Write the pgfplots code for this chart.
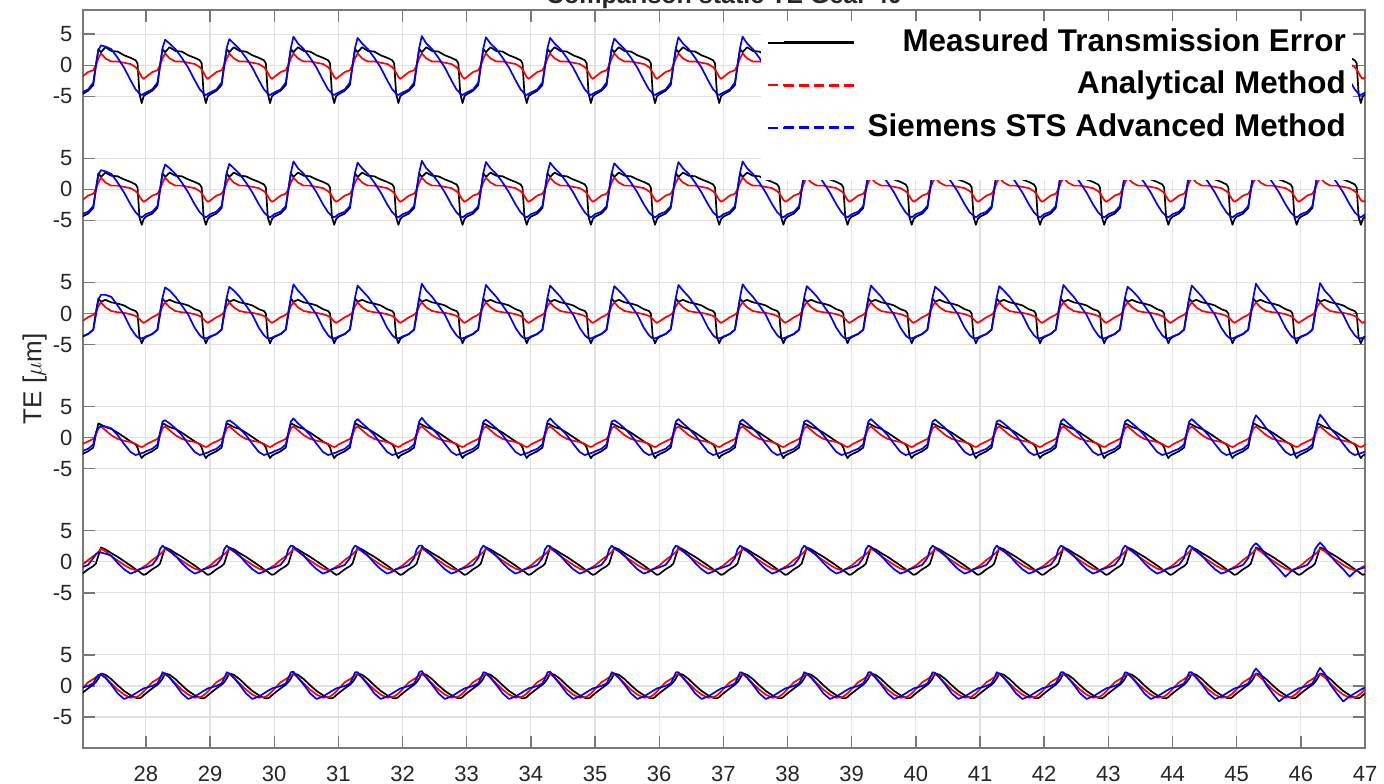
\documentclass[border=0pt]{standalone}
\usepackage{fontspec}
\setmainfont{Liberation Sans}
\usepackage{pgfplots}
\pgfplotsset{compat=1.18}
\usepackage{pgfplotstable}
\definecolor{axgray}{RGB}{120,120,120}
\definecolor{lblgray}{RGB}{38,38,38}
\definecolor{gridgray}{RGB}{225,225,225}

% columns: x, then measured/analytical/siemens for bands 1..6 (top to bottom)
\pgfplotstableread{
x m1 a1 s1 m2 a2 s2 m3 a3 s3 m4 a4 s4 m5 a5 s5 m6 a6 s6
27.00 -4.7 -1.9 -4.4 -4.4 -1.8 -4.0 -3.8 -1.3 -3.7 -2.7 -1.1 -2.2 -2.0 -0.6 -0.9 -1.2 -0.5 -0.3
27.10 -4.1 -1.1 -3.9 -3.9 -1.0 -3.6 -3.3 -0.6 -3.3 -2.2 -0.6 -1.8 -1.2 0.3 -0.5 -0.4 0.6 0.0
27.18 -3.2 -0.8 -2.8 -3.0 -0.7 -2.7 -2.6 -0.2 -2.6 -1.6 -0.2 -1.1 -0.7 0.9 0.6 0.2 1.1 0.4
27.22 0.0 0.0 -0.2 0.0 0.0 -0.2 0.2 0.2 -0.3 0.5 0.4 0.8 -0.3 1.2 1.2 0.6 1.4 1.2
27.26 2.6 1.1 2.4 2.6 1.1 2.4 2.4 1.2 2.3 2.3 1.5 1.6 1.0 1.6 1.5 1.2 1.7 1.8
27.30 2.1 1.9 3.2 2.0 1.9 3.1 1.9 1.8 3.0 2.1 1.8 1.9 2.3 2.1 1.5 2.0 1.9 1.8
27.37 2.9 1.1 3.0 2.7 1.1 2.9 2.2 1.0 3.0 1.7 1.2 1.8 2.0 1.7 1.3 1.8 1.4 1.3
27.46 2.3 0.6 2.6 2.2 0.6 2.5 1.8 0.4 2.7 1.4 0.4 1.5 1.4 0.9 1.0 1.1 0.4 0.2
27.56 2.2 0.6 1.2 2.1 0.6 1.1 1.6 0.2 1.3 0.8 -0.2 0.4 0.8 0.2 -0.2 0.1 -0.6 -1.2
27.66 1.6 0.4 -0.4 1.6 0.4 -0.5 1.3 0.1 -0.2 0.1 -0.5 -1.0 0.1 -0.5 -1.2 -0.8 -1.4 -2.1
27.76 1.2 0.2 -2.4 1.2 0.2 -2.4 0.7 -0.1 -2.3 -0.6 -0.7 -2.3 -0.6 -1.1 -1.9 -1.5 -1.9 -1.7
27.84 0.8 -0.3 -3.9 0.8 -0.3 -3.7 0.4 -0.4 -3.5 -1.1 -1.0 -2.8 -1.2 -1.35 -1.6 -1.9 -1.8 -1.2
27.87 0.3 -0.7 -4.2 0.3 -0.6 -4.0 0.0 -0.6 -3.8 -1.6 -1.2 -2.7 -1.4 -1.3 -1.4 -2.0 -1.7 -1.0
27.90 -4.6 -1.2 -4.6 -4.5 -1.1 -4.3 -3.8 -0.9 -4.0 -2.6 -1.4 -2.6 -1.6 -1.2 -1.2 -2.0 -1.5 -0.8
27.935 -6.1 -1.9 -4.8 -5.7 -1.7 -4.5 -4.8 -1.3 -4.0 -3.3 -1.5 -2.5 -1.9 -1.0 -1.1 -1.8 -1.2 -0.6
27.965 -5.0 -2.2 -4.6 -4.8 -2.0 -4.3 -4.1 -1.5 -3.9 -2.9 -1.4 -2.4 -2.1 -0.8 -1.0 -1.5 -0.9 -0.4
28.00 -4.7 -1.9 -4.4 -4.4 -1.8 -4.0 -3.8 -1.3 -3.7 -2.7 -1.1 -2.2 -2.0 -0.6 -0.9 -1.2 -0.5 -0.3
28.10 -4.1 -1.1 -3.9 -3.9 -1.0 -3.6 -3.3 -0.6 -3.3 -2.2 -0.6 -1.8 -1.2 0.3 -0.5 -0.4 0.6 0.0
28.18 -3.2 -0.8 -2.8 -3.0 -0.7 -2.7 -2.6 -0.2 -2.6 -1.6 -0.2 -1.1 -0.7 0.9 0.6 0.2 1.1 0.4
28.22 0.0 0.0 -0.2 0.0 0.0 -0.2 0.2 0.2 -0.3 0.5 0.4 0.8 -0.3 1.2 2.0 0.6 1.4 1.2
28.26 2.6 1.1 2.8 2.6 1.1 2.7 2.4 1.2 2.6 2.3 1.5 2.6 1.0 1.6 2.6 1.2 1.7 2.2
28.30 2.1 1.9 4.1 2.0 1.9 4.0 1.9 1.8 4.2 2.1 1.8 2.8 2.3 2.1 2.2 2.0 1.9 2.0
28.37 2.9 1.1 3.5 2.7 1.1 3.4 2.2 1.0 3.7 1.7 1.2 2.3 2.0 1.7 1.7 1.8 1.4 1.3
28.46 2.3 0.6 2.6 2.2 0.6 2.5 1.8 0.4 2.7 1.4 0.4 1.5 1.4 0.9 1.0 1.1 0.4 0.2
28.56 2.2 0.6 1.2 2.1 0.6 1.1 1.6 0.2 1.3 0.8 -0.2 0.4 0.8 0.2 -0.2 0.1 -0.6 -1.2
28.66 1.6 0.4 -0.4 1.6 0.4 -0.5 1.3 0.1 -0.2 0.1 -0.5 -1.0 0.1 -0.5 -1.2 -0.8 -1.4 -2.1
28.76 1.2 0.2 -2.4 1.2 0.2 -2.4 0.7 -0.1 -2.3 -0.6 -0.7 -2.3 -0.6 -1.1 -1.9 -1.5 -1.9 -1.7
28.84 0.8 -0.3 -3.9 0.8 -0.3 -3.7 0.4 -0.4 -3.5 -1.1 -1.0 -2.8 -1.2 -1.35 -1.6 -1.9 -1.8 -1.2
28.87 0.3 -0.7 -4.2 0.3 -0.6 -4.0 0.0 -0.6 -3.8 -1.6 -1.2 -2.7 -1.4 -1.3 -1.4 -2.0 -1.7 -1.0
28.90 -4.6 -1.2 -4.6 -4.5 -1.1 -4.3 -3.8 -0.9 -4.0 -2.6 -1.4 -2.6 -1.6 -1.2 -1.2 -2.0 -1.5 -0.8
28.935 -6.1 -1.9 -4.8 -5.7 -1.7 -4.5 -4.8 -1.3 -4.0 -3.3 -1.5 -2.5 -1.9 -1.0 -1.1 -1.8 -1.2 -0.6
28.965 -5.0 -2.2 -4.6 -4.8 -2.0 -4.3 -4.1 -1.5 -3.9 -2.9 -1.4 -2.4 -2.1 -0.8 -1.0 -1.5 -0.9 -0.4
29.00 -4.7 -1.9 -4.4 -4.4 -1.8 -4.0 -3.8 -1.3 -3.7 -2.7 -1.1 -2.2 -2.0 -0.6 -0.9 -1.2 -0.5 -0.3
29.10 -4.1 -1.1 -3.9 -3.9 -1.0 -3.6 -3.3 -0.6 -3.3 -2.2 -0.6 -1.8 -1.2 0.3 -0.5 -0.4 0.6 0.0
29.18 -3.2 -0.8 -2.8 -3.0 -0.7 -2.7 -2.6 -0.2 -2.6 -1.6 -0.2 -1.1 -0.7 0.9 0.6 0.2 1.1 0.4
29.22 0.0 0.0 -0.2 0.0 0.0 -0.2 0.2 0.2 -0.3 0.5 0.4 0.8 -0.3 1.2 2.0 0.6 1.4 1.2
29.26 2.6 1.1 2.8 2.6 1.1 2.7 2.4 1.2 2.6 2.3 1.5 2.6 1.0 1.6 2.6 1.2 1.7 2.2
29.30 2.1 1.9 4.2 2.0 1.9 4.1 1.9 1.8 4.3 2.1 1.8 2.8 2.3 2.1 2.2 2.0 1.9 2.0
29.37 2.9 1.1 3.5 2.7 1.1 3.4 2.2 1.0 3.7 1.7 1.2 2.3 2.0 1.7 1.7 1.8 1.4 1.3
29.46 2.3 0.6 2.6 2.2 0.6 2.5 1.8 0.4 2.7 1.4 0.4 1.5 1.4 0.9 1.0 1.1 0.4 0.2
29.56 2.2 0.6 1.2 2.1 0.6 1.1 1.6 0.2 1.3 0.8 -0.2 0.4 0.8 0.2 -0.2 0.1 -0.6 -1.2
29.66 1.6 0.4 -0.4 1.6 0.4 -0.5 1.3 0.1 -0.2 0.1 -0.5 -1.0 0.1 -0.5 -1.2 -0.8 -1.4 -2.1
29.76 1.2 0.2 -2.4 1.2 0.2 -2.4 0.7 -0.1 -2.3 -0.6 -0.7 -2.3 -0.6 -1.1 -1.9 -1.5 -1.9 -1.7
29.84 0.8 -0.3 -3.9 0.8 -0.3 -3.7 0.4 -0.4 -3.5 -1.1 -1.0 -2.8 -1.2 -1.35 -1.6 -1.9 -1.8 -1.2
29.87 0.3 -0.7 -4.2 0.3 -0.6 -4.0 0.0 -0.6 -3.8 -1.6 -1.2 -2.7 -1.4 -1.3 -1.4 -2.0 -1.7 -1.0
29.90 -4.6 -1.2 -4.6 -4.5 -1.1 -4.3 -3.8 -0.9 -4.0 -2.6 -1.4 -2.6 -1.6 -1.2 -1.2 -2.0 -1.5 -0.8
29.935 -6.1 -1.9 -4.8 -5.7 -1.7 -4.5 -4.8 -1.3 -4.0 -3.3 -1.5 -2.5 -1.9 -1.0 -1.1 -1.8 -1.2 -0.6
29.965 -5.0 -2.2 -4.6 -4.8 -2.0 -4.3 -4.1 -1.5 -3.9 -2.9 -1.4 -2.4 -2.1 -0.8 -1.0 -1.5 -0.9 -0.4
30.00 -4.7 -1.9 -4.4 -4.4 -1.8 -4.0 -3.8 -1.3 -3.7 -2.7 -1.1 -2.2 -2.0 -0.6 -0.9 -1.2 -0.5 -0.3
30.10 -4.1 -1.1 -3.9 -3.9 -1.0 -3.6 -3.3 -0.6 -3.3 -2.2 -0.6 -1.8 -1.2 0.3 -0.5 -0.4 0.6 0.0
30.18 -3.2 -0.8 -2.8 -3.0 -0.7 -2.7 -2.6 -0.2 -2.6 -1.6 -0.2 -1.1 -0.7 0.9 0.6 0.2 1.1 0.4
30.22 0.0 0.0 -0.2 0.0 0.0 -0.2 0.2 0.2 -0.3 0.5 0.4 0.8 -0.3 1.2 2.0 0.6 1.4 1.2
30.26 2.6 1.1 2.8 2.6 1.1 2.7 2.4 1.2 2.6 2.3 1.5 2.6 1.0 1.6 2.6 1.2 1.7 2.2
30.30 2.1 1.9 4.6 2.0 1.9 4.5 1.9 1.8 4.7 2.1 1.8 3.1 2.3 2.1 2.5 2.0 1.9 2.3
30.37 2.9 1.1 3.5 2.7 1.1 3.4 2.2 1.0 3.7 1.7 1.2 2.3 2.0 1.7 1.7 1.8 1.4 1.3
30.46 2.3 0.6 2.6 2.2 0.6 2.5 1.8 0.4 2.7 1.4 0.4 1.5 1.4 0.9 1.0 1.1 0.4 0.2
30.56 2.2 0.6 1.2 2.1 0.6 1.1 1.6 0.2 1.3 0.8 -0.2 0.4 0.8 0.2 -0.2 0.1 -0.6 -1.2
30.66 1.6 0.4 -0.4 1.6 0.4 -0.5 1.3 0.1 -0.2 0.1 -0.5 -1.0 0.1 -0.5 -1.2 -0.8 -1.4 -2.1
30.76 1.2 0.2 -2.4 1.2 0.2 -2.4 0.7 -0.1 -2.3 -0.6 -0.7 -2.3 -0.6 -1.1 -1.9 -1.5 -1.9 -1.7
30.84 0.8 -0.3 -3.9 0.8 -0.3 -3.7 0.4 -0.4 -3.5 -1.1 -1.0 -2.8 -1.2 -1.35 -1.6 -1.9 -1.8 -1.2
30.87 0.3 -0.7 -4.2 0.3 -0.6 -4.0 0.0 -0.6 -3.8 -1.6 -1.2 -2.7 -1.4 -1.3 -1.4 -2.0 -1.7 -1.0
30.90 -4.6 -1.2 -4.6 -4.5 -1.1 -4.3 -3.8 -0.9 -4.0 -2.6 -1.4 -2.6 -1.6 -1.2 -1.2 -2.0 -1.5 -0.8
30.935 -6.1 -1.9 -4.8 -5.7 -1.7 -4.5 -4.8 -1.3 -4.0 -3.3 -1.5 -2.5 -1.9 -1.0 -1.1 -1.8 -1.2 -0.6
30.965 -5.0 -2.2 -4.6 -4.8 -2.0 -4.3 -4.1 -1.5 -3.9 -2.9 -1.4 -2.4 -2.1 -0.8 -1.0 -1.5 -0.9 -0.4
31.00 -4.7 -1.9 -4.4 -4.4 -1.8 -4.0 -3.8 -1.3 -3.7 -2.7 -1.1 -2.2 -2.0 -0.6 -0.9 -1.2 -0.5 -0.3
31.10 -4.1 -1.1 -3.9 -3.9 -1.0 -3.6 -3.3 -0.6 -3.3 -2.2 -0.6 -1.8 -1.2 0.3 -0.5 -0.4 0.6 0.0
31.18 -3.2 -0.8 -2.8 -3.0 -0.7 -2.7 -2.6 -0.2 -2.6 -1.6 -0.2 -1.1 -0.7 0.9 0.6 0.2 1.1 0.4
31.22 0.0 0.0 -0.2 0.0 0.0 -0.2 0.2 0.2 -0.3 0.5 0.4 0.8 -0.3 1.2 2.0 0.6 1.4 1.2
31.26 2.6 1.1 2.8 2.6 1.1 2.7 2.4 1.2 2.6 2.3 1.5 2.6 1.0 1.6 2.6 1.2 1.7 2.2
31.30 2.1 1.9 4.4 2.0 1.9 4.3 1.9 1.8 4.5 2.1 1.8 3.0 2.3 2.1 2.4 2.0 1.9 2.2
31.37 2.9 1.1 3.5 2.7 1.1 3.4 2.2 1.0 3.7 1.7 1.2 2.3 2.0 1.7 1.7 1.8 1.4 1.3
31.46 2.3 0.6 2.6 2.2 0.6 2.5 1.8 0.4 2.7 1.4 0.4 1.5 1.4 0.9 1.0 1.1 0.4 0.2
31.56 2.2 0.6 1.2 2.1 0.6 1.1 1.6 0.2 1.3 0.8 -0.2 0.4 0.8 0.2 -0.2 0.1 -0.6 -1.2
31.66 1.6 0.4 -0.4 1.6 0.4 -0.5 1.3 0.1 -0.2 0.1 -0.5 -1.0 0.1 -0.5 -1.2 -0.8 -1.4 -2.1
31.76 1.2 0.2 -2.4 1.2 0.2 -2.4 0.7 -0.1 -2.3 -0.6 -0.7 -2.3 -0.6 -1.1 -1.9 -1.5 -1.9 -1.7
31.84 0.8 -0.3 -3.9 0.8 -0.3 -3.7 0.4 -0.4 -3.5 -1.1 -1.0 -2.8 -1.2 -1.35 -1.6 -1.9 -1.8 -1.2
31.87 0.3 -0.7 -4.2 0.3 -0.6 -4.0 0.0 -0.6 -3.8 -1.6 -1.2 -2.7 -1.4 -1.3 -1.4 -2.0 -1.7 -1.0
31.90 -4.6 -1.2 -4.6 -4.5 -1.1 -4.3 -3.8 -0.9 -4.0 -2.6 -1.4 -2.6 -1.6 -1.2 -1.2 -2.0 -1.5 -0.8
31.935 -6.1 -1.9 -4.8 -5.7 -1.7 -4.5 -4.8 -1.3 -4.0 -3.3 -1.5 -2.5 -1.9 -1.0 -1.1 -1.8 -1.2 -0.6
31.965 -5.0 -2.2 -4.6 -4.8 -2.0 -4.3 -4.1 -1.5 -3.9 -2.9 -1.4 -2.4 -2.1 -0.8 -1.0 -1.5 -0.9 -0.4
32.00 -4.7 -1.9 -4.4 -4.4 -1.8 -4.0 -3.8 -1.3 -3.7 -2.7 -1.1 -2.2 -2.0 -0.6 -0.9 -1.2 -0.5 -0.3
32.10 -4.1 -1.1 -3.9 -3.9 -1.0 -3.6 -3.3 -0.6 -3.3 -2.2 -0.6 -1.8 -1.2 0.3 -0.5 -0.4 0.6 0.0
32.18 -3.2 -0.8 -2.8 -3.0 -0.7 -2.7 -2.6 -0.2 -2.6 -1.6 -0.2 -1.1 -0.7 0.9 0.6 0.2 1.1 0.4
32.22 0.0 0.0 -0.2 0.0 0.0 -0.2 0.2 0.2 -0.3 0.5 0.4 0.8 -0.3 1.2 2.0 0.6 1.4 1.2
32.26 2.6 1.1 2.8 2.6 1.1 2.7 2.4 1.2 2.6 2.3 1.5 2.6 1.0 1.6 2.6 1.2 1.7 2.2
32.30 2.1 1.9 4.7 2.0 1.9 4.6 1.9 1.8 4.8 2.1 1.8 3.2 2.3 2.1 2.6 2.0 1.9 2.4
32.37 2.9 1.1 3.5 2.7 1.1 3.4 2.2 1.0 3.7 1.7 1.2 2.3 2.0 1.7 1.7 1.8 1.4 1.3
32.46 2.3 0.6 2.6 2.2 0.6 2.5 1.8 0.4 2.7 1.4 0.4 1.5 1.4 0.9 1.0 1.1 0.4 0.2
32.56 2.2 0.6 1.2 2.1 0.6 1.1 1.6 0.2 1.3 0.8 -0.2 0.4 0.8 0.2 -0.2 0.1 -0.6 -1.2
32.66 1.6 0.4 -0.4 1.6 0.4 -0.5 1.3 0.1 -0.2 0.1 -0.5 -1.0 0.1 -0.5 -1.2 -0.8 -1.4 -2.1
32.76 1.2 0.2 -2.4 1.2 0.2 -2.4 0.7 -0.1 -2.3 -0.6 -0.7 -2.3 -0.6 -1.1 -1.9 -1.5 -1.9 -1.7
32.84 0.8 -0.3 -3.9 0.8 -0.3 -3.7 0.4 -0.4 -3.5 -1.1 -1.0 -2.8 -1.2 -1.35 -1.6 -1.9 -1.8 -1.2
32.87 0.3 -0.7 -4.2 0.3 -0.6 -4.0 0.0 -0.6 -3.8 -1.6 -1.2 -2.7 -1.4 -1.3 -1.4 -2.0 -1.7 -1.0
32.90 -4.6 -1.2 -4.6 -4.5 -1.1 -4.3 -3.8 -0.9 -4.0 -2.6 -1.4 -2.6 -1.6 -1.2 -1.2 -2.0 -1.5 -0.8
32.935 -6.1 -1.9 -4.8 -5.7 -1.7 -4.5 -4.8 -1.3 -4.0 -3.3 -1.5 -2.5 -1.9 -1.0 -1.1 -1.8 -1.2 -0.6
32.965 -5.0 -2.2 -4.6 -4.8 -2.0 -4.3 -4.1 -1.5 -3.9 -2.9 -1.4 -2.4 -2.1 -0.8 -1.0 -1.5 -0.9 -0.4
33.00 -4.7 -1.9 -4.4 -4.4 -1.8 -4.0 -3.8 -1.3 -3.7 -2.7 -1.1 -2.2 -2.0 -0.6 -0.9 -1.2 -0.5 -0.3
33.10 -4.1 -1.1 -3.9 -3.9 -1.0 -3.6 -3.3 -0.6 -3.3 -2.2 -0.6 -1.8 -1.2 0.3 -0.5 -0.4 0.6 0.0
33.18 -3.2 -0.8 -2.8 -3.0 -0.7 -2.7 -2.6 -0.2 -2.6 -1.6 -0.2 -1.1 -0.7 0.9 0.6 0.2 1.1 0.4
33.22 0.0 0.0 -0.2 0.0 0.0 -0.2 0.2 0.2 -0.3 0.5 0.4 0.8 -0.3 1.2 2.0 0.6 1.4 1.2
33.26 2.6 1.1 2.8 2.6 1.1 2.7 2.4 1.2 2.6 2.3 1.5 2.6 1.0 1.6 2.6 1.2 1.7 2.2
33.30 2.1 1.9 4.5 2.0 1.9 4.4 1.9 1.8 4.6 2.1 1.8 2.9 2.3 2.1 2.3 2.0 1.9 2.1
33.37 2.9 1.1 3.5 2.7 1.1 3.4 2.2 1.0 3.7 1.7 1.2 2.3 2.0 1.7 1.7 1.8 1.4 1.3
33.46 2.3 0.6 2.6 2.2 0.6 2.5 1.8 0.4 2.7 1.4 0.4 1.5 1.4 0.9 1.0 1.1 0.4 0.2
33.56 2.2 0.6 1.2 2.1 0.6 1.1 1.6 0.2 1.3 0.8 -0.2 0.4 0.8 0.2 -0.2 0.1 -0.6 -1.2
33.66 1.6 0.4 -0.4 1.6 0.4 -0.5 1.3 0.1 -0.2 0.1 -0.5 -1.0 0.1 -0.5 -1.2 -0.8 -1.4 -2.1
33.76 1.2 0.2 -2.4 1.2 0.2 -2.4 0.7 -0.1 -2.3 -0.6 -0.7 -2.3 -0.6 -1.1 -1.9 -1.5 -1.9 -1.7
33.84 0.8 -0.3 -3.9 0.8 -0.3 -3.7 0.4 -0.4 -3.5 -1.1 -1.0 -2.8 -1.2 -1.35 -1.6 -1.9 -1.8 -1.2
33.87 0.3 -0.7 -4.2 0.3 -0.6 -4.0 0.0 -0.6 -3.8 -1.6 -1.2 -2.7 -1.4 -1.3 -1.4 -2.0 -1.7 -1.0
33.90 -4.6 -1.2 -4.6 -4.5 -1.1 -4.3 -3.8 -0.9 -4.0 -2.6 -1.4 -2.6 -1.6 -1.2 -1.2 -2.0 -1.5 -0.8
33.935 -6.1 -1.9 -4.8 -5.7 -1.7 -4.5 -4.8 -1.3 -4.0 -3.3 -1.5 -2.5 -1.9 -1.0 -1.1 -1.8 -1.2 -0.6
33.965 -5.0 -2.2 -4.6 -4.8 -2.0 -4.3 -4.1 -1.5 -3.9 -2.9 -1.4 -2.4 -2.1 -0.8 -1.0 -1.5 -0.9 -0.4
34.00 -4.7 -1.9 -4.4 -4.4 -1.8 -4.0 -3.8 -1.3 -3.7 -2.7 -1.1 -2.2 -2.0 -0.6 -0.9 -1.2 -0.5 -0.3
34.10 -4.1 -1.1 -3.9 -3.9 -1.0 -3.6 -3.3 -0.6 -3.3 -2.2 -0.6 -1.8 -1.2 0.3 -0.5 -0.4 0.6 0.0
34.18 -3.2 -0.8 -2.8 -3.0 -0.7 -2.7 -2.6 -0.2 -2.6 -1.6 -0.2 -1.1 -0.7 0.9 0.6 0.2 1.1 0.4
34.22 0.0 0.0 -0.2 0.0 0.0 -0.2 0.2 0.2 -0.3 0.5 0.4 0.8 -0.3 1.2 2.0 0.6 1.4 1.2
34.26 2.6 1.1 2.8 2.6 1.1 2.7 2.4 1.2 2.6 2.3 1.5 2.6 1.0 1.6 2.6 1.2 1.7 2.2
34.30 2.1 1.9 4.4 2.0 1.9 4.3 1.9 1.8 4.5 2.1 1.8 3.1 2.3 2.1 2.5 2.0 1.9 2.3
34.37 2.9 1.1 3.5 2.7 1.1 3.4 2.2 1.0 3.7 1.7 1.2 2.3 2.0 1.7 1.7 1.8 1.4 1.3
34.46 2.3 0.6 2.6 2.2 0.6 2.5 1.8 0.4 2.7 1.4 0.4 1.5 1.4 0.9 1.0 1.1 0.4 0.2
34.56 2.2 0.6 1.2 2.1 0.6 1.1 1.6 0.2 1.3 0.8 -0.2 0.4 0.8 0.2 -0.2 0.1 -0.6 -1.2
34.66 1.6 0.4 -0.4 1.6 0.4 -0.5 1.3 0.1 -0.2 0.1 -0.5 -1.0 0.1 -0.5 -1.2 -0.8 -1.4 -2.1
34.76 1.2 0.2 -2.4 1.2 0.2 -2.4 0.7 -0.1 -2.3 -0.6 -0.7 -2.3 -0.6 -1.1 -1.9 -1.5 -1.9 -1.7
34.84 0.8 -0.3 -3.9 0.8 -0.3 -3.7 0.4 -0.4 -3.5 -1.1 -1.0 -2.8 -1.2 -1.35 -1.6 -1.9 -1.8 -1.2
34.87 0.3 -0.7 -4.2 0.3 -0.6 -4.0 0.0 -0.6 -3.8 -1.6 -1.2 -2.7 -1.4 -1.3 -1.4 -2.0 -1.7 -1.0
34.90 -4.6 -1.2 -4.6 -4.5 -1.1 -4.3 -3.8 -0.9 -4.0 -2.6 -1.4 -2.6 -1.6 -1.2 -1.2 -2.0 -1.5 -0.8
34.935 -6.1 -1.9 -4.8 -5.7 -1.7 -4.5 -4.8 -1.3 -4.0 -3.3 -1.5 -2.5 -1.9 -1.0 -1.1 -1.8 -1.2 -0.6
34.965 -5.0 -2.2 -4.6 -4.8 -2.0 -4.3 -4.1 -1.5 -3.9 -2.9 -1.4 -2.4 -2.1 -0.8 -1.0 -1.5 -0.9 -0.4
35.00 -4.7 -1.9 -4.4 -4.4 -1.8 -4.0 -3.8 -1.3 -3.7 -2.7 -1.1 -2.2 -2.0 -0.6 -0.9 -1.2 -0.5 -0.3
35.10 -4.1 -1.1 -3.9 -3.9 -1.0 -3.6 -3.3 -0.6 -3.3 -2.2 -0.6 -1.8 -1.2 0.3 -0.5 -0.4 0.6 0.0
35.18 -3.2 -0.8 -2.8 -3.0 -0.7 -2.7 -2.6 -0.2 -2.6 -1.6 -0.2 -1.1 -0.7 0.9 0.6 0.2 1.1 0.4
35.22 0.0 0.0 -0.2 0.0 0.0 -0.2 0.2 0.2 -0.3 0.5 0.4 0.8 -0.3 1.2 2.0 0.6 1.4 1.2
35.26 2.6 1.1 2.8 2.6 1.1 2.7 2.4 1.2 2.6 2.3 1.5 2.6 1.0 1.6 2.6 1.2 1.7 2.2
35.30 2.1 1.9 4.3 2.0 1.9 4.2 1.9 1.8 4.4 2.1 1.8 2.8 2.3 2.1 2.2 2.0 1.9 2.0
35.37 2.9 1.1 3.5 2.7 1.1 3.4 2.2 1.0 3.7 1.7 1.2 2.3 2.0 1.7 1.7 1.8 1.4 1.3
35.46 2.3 0.6 2.6 2.2 0.6 2.5 1.8 0.4 2.7 1.4 0.4 1.5 1.4 0.9 1.0 1.1 0.4 0.2
35.56 2.2 0.6 1.2 2.1 0.6 1.1 1.6 0.2 1.3 0.8 -0.2 0.4 0.8 0.2 -0.2 0.1 -0.6 -1.2
35.66 1.6 0.4 -0.4 1.6 0.4 -0.5 1.3 0.1 -0.2 0.1 -0.5 -1.0 0.1 -0.5 -1.2 -0.8 -1.4 -2.1
35.76 1.2 0.2 -2.4 1.2 0.2 -2.4 0.7 -0.1 -2.3 -0.6 -0.7 -2.3 -0.6 -1.1 -1.9 -1.5 -1.9 -1.7
35.84 0.8 -0.3 -3.9 0.8 -0.3 -3.7 0.4 -0.4 -3.5 -1.1 -1.0 -2.8 -1.2 -1.35 -1.6 -1.9 -1.8 -1.2
35.87 0.3 -0.7 -4.2 0.3 -0.6 -4.0 0.0 -0.6 -3.8 -1.6 -1.2 -2.7 -1.4 -1.3 -1.4 -2.0 -1.7 -1.0
35.90 -4.6 -1.2 -4.6 -4.5 -1.1 -4.3 -3.8 -0.9 -4.0 -2.6 -1.4 -2.6 -1.6 -1.2 -1.2 -2.0 -1.5 -0.8
35.935 -6.1 -1.9 -4.8 -5.7 -1.7 -4.5 -4.8 -1.3 -4.0 -3.3 -1.5 -2.5 -1.9 -1.0 -1.1 -1.8 -1.2 -0.6
35.965 -5.0 -2.2 -4.6 -4.8 -2.0 -4.3 -4.1 -1.5 -3.9 -2.9 -1.4 -2.4 -2.1 -0.8 -1.0 -1.5 -0.9 -0.4
36.00 -4.7 -1.9 -4.4 -4.4 -1.8 -4.0 -3.8 -1.3 -3.7 -2.7 -1.1 -2.2 -2.0 -0.6 -0.9 -1.2 -0.5 -0.3
36.10 -4.1 -1.1 -3.9 -3.9 -1.0 -3.6 -3.3 -0.6 -3.3 -2.2 -0.6 -1.8 -1.2 0.3 -0.5 -0.4 0.6 0.0
36.18 -3.2 -0.8 -2.8 -3.0 -0.7 -2.7 -2.6 -0.2 -2.6 -1.6 -0.2 -1.1 -0.7 0.9 0.6 0.2 1.1 0.4
36.22 0.0 0.0 -0.2 0.0 0.0 -0.2 0.2 0.2 -0.3 0.5 0.4 0.8 -0.3 1.2 2.0 0.6 1.4 1.2
36.26 2.6 1.1 2.8 2.6 1.1 2.7 2.4 1.2 2.6 2.3 1.5 2.6 1.0 1.6 2.6 1.2 1.7 2.2
36.30 2.1 1.9 4.5 2.0 1.9 4.4 1.9 1.8 4.6 2.1 1.8 3.0 2.3 2.1 2.4 2.0 1.9 2.2
36.37 2.9 1.1 3.5 2.7 1.1 3.4 2.2 1.0 3.7 1.7 1.2 2.3 2.0 1.7 1.7 1.8 1.4 1.3
36.46 2.3 0.6 2.6 2.2 0.6 2.5 1.8 0.4 2.7 1.4 0.4 1.5 1.4 0.9 1.0 1.1 0.4 0.2
36.56 2.2 0.6 1.2 2.1 0.6 1.1 1.6 0.2 1.3 0.8 -0.2 0.4 0.8 0.2 -0.2 0.1 -0.6 -1.2
36.66 1.6 0.4 -0.4 1.6 0.4 -0.5 1.3 0.1 -0.2 0.1 -0.5 -1.0 0.1 -0.5 -1.2 -0.8 -1.4 -2.1
36.76 1.2 0.2 -2.4 1.2 0.2 -2.4 0.7 -0.1 -2.3 -0.6 -0.7 -2.3 -0.6 -1.1 -1.9 -1.5 -1.9 -1.7
36.84 0.8 -0.3 -3.9 0.8 -0.3 -3.7 0.4 -0.4 -3.5 -1.1 -1.0 -2.8 -1.2 -1.35 -1.6 -1.9 -1.8 -1.2
36.87 0.3 -0.7 -4.2 0.3 -0.6 -4.0 0.0 -0.6 -3.8 -1.6 -1.2 -2.7 -1.4 -1.3 -1.4 -2.0 -1.7 -1.0
36.90 -4.6 -1.2 -4.6 -4.5 -1.1 -4.3 -3.8 -0.9 -4.0 -2.6 -1.4 -2.6 -1.6 -1.2 -1.2 -2.0 -1.5 -0.8
36.935 -6.1 -1.9 -4.8 -5.7 -1.7 -4.5 -4.8 -1.3 -4.0 -3.3 -1.5 -2.5 -1.9 -1.0 -1.1 -1.8 -1.2 -0.6
36.965 -5.0 -2.2 -4.6 -4.8 -2.0 -4.3 -4.1 -1.5 -3.9 -2.9 -1.4 -2.4 -2.1 -0.8 -1.0 -1.5 -0.9 -0.4
37.00 -4.7 -1.9 -4.4 -4.4 -1.8 -4.0 -3.8 -1.3 -3.7 -2.7 -1.1 -2.2 -2.0 -0.6 -0.9 -1.2 -0.5 -0.3
37.10 -4.1 -1.1 -3.9 -3.9 -1.0 -3.6 -3.3 -0.6 -3.3 -2.2 -0.6 -1.8 -1.2 0.3 -0.5 -0.4 0.6 0.0
37.18 -3.2 -0.8 -2.8 -3.0 -0.7 -2.7 -2.6 -0.2 -2.6 -1.6 -0.2 -1.1 -0.7 0.9 0.6 0.2 1.1 0.4
37.22 0.0 0.0 -0.2 0.0 0.0 -0.2 0.2 0.2 -0.3 0.5 0.4 0.8 -0.3 1.2 2.0 0.6 1.4 1.2
37.26 2.6 1.1 2.8 2.6 1.1 2.7 2.4 1.2 2.6 2.3 1.5 2.6 1.0 1.6 2.6 1.2 1.7 2.2
37.30 2.1 1.9 4.6 2.0 1.9 4.5 1.9 1.8 4.7 2.1 1.8 2.9 2.3 2.1 2.3 2.0 1.9 2.1
37.37 2.9 1.1 3.5 2.7 1.1 3.4 2.2 1.0 3.7 1.7 1.2 2.3 2.0 1.7 1.7 1.8 1.4 1.3
37.46 2.3 0.6 2.6 2.2 0.6 2.5 1.8 0.4 2.7 1.4 0.4 1.5 1.4 0.9 1.0 1.1 0.4 0.2
37.56 2.2 0.6 1.2 2.1 0.6 1.1 1.6 0.2 1.3 0.8 -0.2 0.4 0.8 0.2 -0.2 0.1 -0.6 -1.2
37.66 1.6 0.4 -0.4 1.6 0.4 -0.5 1.3 0.1 -0.2 0.1 -0.5 -1.0 0.1 -0.5 -1.2 -0.8 -1.4 -2.1
37.76 1.2 0.2 -2.4 1.2 0.2 -2.4 0.7 -0.1 -2.3 -0.6 -0.7 -2.3 -0.6 -1.1 -1.9 -1.5 -1.9 -1.7
37.84 0.8 -0.3 -3.9 0.8 -0.3 -3.7 0.4 -0.4 -3.5 -1.1 -1.0 -2.8 -1.2 -1.35 -1.6 -1.9 -1.8 -1.2
37.87 0.3 -0.7 -4.2 0.3 -0.6 -4.0 0.0 -0.6 -3.8 -1.6 -1.2 -2.7 -1.4 -1.3 -1.4 -2.0 -1.7 -1.0
37.90 -4.6 -1.2 -4.6 -4.5 -1.1 -4.3 -3.8 -0.9 -4.0 -2.6 -1.4 -2.6 -1.6 -1.2 -1.2 -2.0 -1.5 -0.8
37.935 -6.1 -1.9 -4.8 -5.7 -1.7 -4.5 -4.8 -1.3 -4.0 -3.3 -1.5 -2.5 -1.9 -1.0 -1.1 -1.8 -1.2 -0.6
37.965 -5.0 -2.2 -4.6 -4.8 -2.0 -4.3 -4.1 -1.5 -3.9 -2.9 -1.4 -2.4 -2.1 -0.8 -1.0 -1.5 -0.9 -0.4
38.00 -4.7 -1.9 -4.4 -4.4 -1.8 -4.0 -3.8 -1.3 -3.7 -2.7 -1.1 -2.2 -2.0 -0.6 -0.9 -1.2 -0.5 -0.3
38.10 -4.1 -1.1 -3.9 -3.9 -1.0 -3.6 -3.3 -0.6 -3.3 -2.2 -0.6 -1.8 -1.2 0.3 -0.5 -0.4 0.6 0.0
38.18 -3.2 -0.8 -2.8 -3.0 -0.7 -2.7 -2.6 -0.2 -2.6 -1.6 -0.2 -1.1 -0.7 0.9 0.6 0.2 1.1 0.4
38.22 0.0 0.0 -0.2 0.0 0.0 -0.2 0.2 0.2 -0.3 0.5 0.4 0.8 -0.3 1.2 2.0 0.6 1.4 1.2
38.26 2.6 1.1 2.8 2.6 1.1 2.7 2.4 1.2 2.6 2.3 1.5 2.6 1.0 1.6 2.6 1.2 1.7 2.2
38.30 2.1 1.9 4.3 2.0 1.9 4.2 1.9 1.8 4.4 2.1 1.8 2.8 2.3 2.1 2.2 2.0 1.9 2.0
38.37 2.9 1.1 3.5 2.7 1.1 3.4 2.2 1.0 3.7 1.7 1.2 2.3 2.0 1.7 1.7 1.8 1.4 1.3
38.46 2.3 0.6 2.6 2.2 0.6 2.5 1.8 0.4 2.7 1.4 0.4 1.5 1.4 0.9 1.0 1.1 0.4 0.2
38.56 2.2 0.6 1.2 2.1 0.6 1.1 1.6 0.2 1.3 0.8 -0.2 0.4 0.8 0.2 -0.2 0.1 -0.6 -1.2
38.66 1.6 0.4 -0.4 1.6 0.4 -0.5 1.3 0.1 -0.2 0.1 -0.5 -1.0 0.1 -0.5 -1.2 -0.8 -1.4 -2.1
38.76 1.2 0.2 -2.4 1.2 0.2 -2.4 0.7 -0.1 -2.3 -0.6 -0.7 -2.3 -0.6 -1.1 -1.9 -1.5 -1.9 -1.7
38.84 0.8 -0.3 -3.9 0.8 -0.3 -3.7 0.4 -0.4 -3.5 -1.1 -1.0 -2.8 -1.2 -1.35 -1.6 -1.9 -1.8 -1.2
38.87 0.3 -0.7 -4.2 0.3 -0.6 -4.0 0.0 -0.6 -3.8 -1.6 -1.2 -2.7 -1.4 -1.3 -1.4 -2.0 -1.7 -1.0
38.90 -4.6 -1.2 -4.6 -4.5 -1.1 -4.3 -3.8 -0.9 -4.0 -2.6 -1.4 -2.6 -1.6 -1.2 -1.2 -2.0 -1.5 -0.8
38.935 -6.1 -1.9 -4.8 -5.7 -1.7 -4.5 -4.8 -1.3 -4.0 -3.3 -1.5 -2.5 -1.9 -1.0 -1.1 -1.8 -1.2 -0.6
38.965 -5.0 -2.2 -4.6 -4.8 -2.0 -4.3 -4.1 -1.5 -3.9 -2.9 -1.4 -2.4 -2.1 -0.8 -1.0 -1.5 -0.9 -0.4
39.00 -4.7 -1.9 -4.4 -4.4 -1.8 -4.0 -3.8 -1.3 -3.7 -2.7 -1.1 -2.2 -2.0 -0.6 -0.9 -1.2 -0.5 -0.3
39.10 -4.1 -1.1 -3.9 -3.9 -1.0 -3.6 -3.3 -0.6 -3.3 -2.2 -0.6 -1.8 -1.2 0.3 -0.5 -0.4 0.6 0.0
39.18 -3.2 -0.8 -2.8 -3.0 -0.7 -2.7 -2.6 -0.2 -2.6 -1.6 -0.2 -1.1 -0.7 0.9 0.6 0.2 1.1 0.4
39.22 0.0 0.0 -0.2 0.0 0.0 -0.2 0.2 0.2 -0.3 0.5 0.4 0.8 -0.3 1.2 2.0 0.6 1.4 1.2
39.26 2.6 1.1 2.8 2.6 1.1 2.7 2.4 1.2 2.6 2.3 1.5 2.6 1.0 1.6 2.6 1.2 1.7 2.2
39.30 2.1 1.9 4.4 2.0 1.9 4.3 1.9 1.8 4.5 2.1 1.8 3.0 2.3 2.1 2.4 2.0 1.9 2.2
39.37 2.9 1.1 3.5 2.7 1.1 3.4 2.2 1.0 3.7 1.7 1.2 2.3 2.0 1.7 1.7 1.8 1.4 1.3
39.46 2.3 0.6 2.6 2.2 0.6 2.5 1.8 0.4 2.7 1.4 0.4 1.5 1.4 0.9 1.0 1.1 0.4 0.2
39.56 2.2 0.6 1.2 2.1 0.6 1.1 1.6 0.2 1.3 0.8 -0.2 0.4 0.8 0.2 -0.2 0.1 -0.6 -1.2
39.66 1.6 0.4 -0.4 1.6 0.4 -0.5 1.3 0.1 -0.2 0.1 -0.5 -1.0 0.1 -0.5 -1.2 -0.8 -1.4 -2.1
39.76 1.2 0.2 -2.4 1.2 0.2 -2.4 0.7 -0.1 -2.3 -0.6 -0.7 -2.3 -0.6 -1.1 -1.9 -1.5 -1.9 -1.7
39.84 0.8 -0.3 -3.9 0.8 -0.3 -3.7 0.4 -0.4 -3.5 -1.1 -1.0 -2.8 -1.2 -1.35 -1.6 -1.9 -1.8 -1.2
39.87 0.3 -0.7 -4.2 0.3 -0.6 -4.0 0.0 -0.6 -3.8 -1.6 -1.2 -2.7 -1.4 -1.3 -1.4 -2.0 -1.7 -1.0
39.90 -4.6 -1.2 -4.6 -4.5 -1.1 -4.3 -3.8 -0.9 -4.0 -2.6 -1.4 -2.6 -1.6 -1.2 -1.2 -2.0 -1.5 -0.8
39.935 -6.1 -1.9 -4.8 -5.7 -1.7 -4.5 -4.8 -1.3 -4.0 -3.3 -1.5 -2.5 -1.9 -1.0 -1.1 -1.8 -1.2 -0.6
39.965 -5.0 -2.2 -4.6 -4.8 -2.0 -4.3 -4.1 -1.5 -3.9 -2.9 -1.4 -2.4 -2.1 -0.8 -1.0 -1.5 -0.9 -0.4
40.00 -4.7 -1.9 -4.4 -4.4 -1.8 -4.0 -3.8 -1.3 -3.7 -2.7 -1.1 -2.2 -2.0 -0.6 -0.9 -1.2 -0.5 -0.3
40.10 -4.1 -1.1 -3.9 -3.9 -1.0 -3.6 -3.3 -0.6 -3.3 -2.2 -0.6 -1.8 -1.2 0.3 -0.5 -0.4 0.6 0.0
40.18 -3.2 -0.8 -2.8 -3.0 -0.7 -2.7 -2.6 -0.2 -2.6 -1.6 -0.2 -1.1 -0.7 0.9 0.6 0.2 1.1 0.4
40.22 0.0 0.0 -0.2 0.0 0.0 -0.2 0.2 0.2 -0.3 0.5 0.4 0.8 -0.3 1.2 2.0 0.6 1.4 1.2
40.26 2.6 1.1 2.8 2.6 1.1 2.7 2.4 1.2 2.6 2.3 1.5 2.6 1.0 1.6 2.6 1.2 1.7 2.2
40.30 2.1 1.9 4.2 2.0 1.9 4.1 1.9 1.8 4.3 2.1 1.8 2.9 2.3 2.1 2.3 2.0 1.9 2.1
40.37 2.9 1.1 3.5 2.7 1.1 3.4 2.2 1.0 3.7 1.7 1.2 2.3 2.0 1.7 1.7 1.8 1.4 1.3
40.46 2.3 0.6 2.6 2.2 0.6 2.5 1.8 0.4 2.7 1.4 0.4 1.5 1.4 0.9 1.0 1.1 0.4 0.2
40.56 2.2 0.6 1.2 2.1 0.6 1.1 1.6 0.2 1.3 0.8 -0.2 0.4 0.8 0.2 -0.2 0.1 -0.6 -1.2
40.66 1.6 0.4 -0.4 1.6 0.4 -0.5 1.3 0.1 -0.2 0.1 -0.5 -1.0 0.1 -0.5 -1.2 -0.8 -1.4 -2.1
40.76 1.2 0.2 -2.4 1.2 0.2 -2.4 0.7 -0.1 -2.3 -0.6 -0.7 -2.3 -0.6 -1.1 -1.9 -1.5 -1.9 -1.7
40.84 0.8 -0.3 -3.9 0.8 -0.3 -3.7 0.4 -0.4 -3.5 -1.1 -1.0 -2.8 -1.2 -1.35 -1.6 -1.9 -1.8 -1.2
40.87 0.3 -0.7 -4.2 0.3 -0.6 -4.0 0.0 -0.6 -3.8 -1.6 -1.2 -2.7 -1.4 -1.3 -1.4 -2.0 -1.7 -1.0
40.90 -4.6 -1.2 -4.6 -4.5 -1.1 -4.3 -3.8 -0.9 -4.0 -2.6 -1.4 -2.6 -1.6 -1.2 -1.2 -2.0 -1.5 -0.8
40.935 -6.1 -1.9 -4.8 -5.7 -1.7 -4.5 -4.8 -1.3 -4.0 -3.3 -1.5 -2.5 -1.9 -1.0 -1.1 -1.8 -1.2 -0.6
40.965 -5.0 -2.2 -4.6 -4.8 -2.0 -4.3 -4.1 -1.5 -3.9 -2.9 -1.4 -2.4 -2.1 -0.8 -1.0 -1.5 -0.9 -0.4
41.00 -4.7 -1.9 -4.4 -4.4 -1.8 -4.0 -3.8 -1.3 -3.7 -2.7 -1.1 -2.2 -2.0 -0.6 -0.9 -1.2 -0.5 -0.3
41.10 -4.1 -1.1 -3.9 -3.9 -1.0 -3.6 -3.3 -0.6 -3.3 -2.2 -0.6 -1.8 -1.2 0.3 -0.5 -0.4 0.6 0.0
41.18 -3.2 -0.8 -2.8 -3.0 -0.7 -2.7 -2.6 -0.2 -2.6 -1.6 -0.2 -1.1 -0.7 0.9 0.6 0.2 1.1 0.4
41.22 0.0 0.0 -0.2 0.0 0.0 -0.2 0.2 0.2 -0.3 0.5 0.4 0.8 -0.3 1.2 2.0 0.6 1.4 1.2
41.26 2.6 1.1 2.8 2.6 1.1 2.7 2.4 1.2 2.6 2.3 1.5 2.6 1.0 1.6 2.6 1.2 1.7 2.2
41.30 2.1 1.9 4.3 2.0 1.9 4.2 1.9 1.8 4.4 2.1 1.8 2.8 2.3 2.1 2.2 2.0 1.9 2.0
41.37 2.9 1.1 3.5 2.7 1.1 3.4 2.2 1.0 3.7 1.7 1.2 2.3 2.0 1.7 1.7 1.8 1.4 1.3
41.46 2.3 0.6 2.6 2.2 0.6 2.5 1.8 0.4 2.7 1.4 0.4 1.5 1.4 0.9 1.0 1.1 0.4 0.2
41.56 2.2 0.6 1.2 2.1 0.6 1.1 1.6 0.2 1.3 0.8 -0.2 0.4 0.8 0.2 -0.2 0.1 -0.6 -1.2
41.66 1.6 0.4 -0.4 1.6 0.4 -0.5 1.3 0.1 -0.2 0.1 -0.5 -1.0 0.1 -0.5 -1.2 -0.8 -1.4 -2.1
41.76 1.2 0.2 -2.4 1.2 0.2 -2.4 0.7 -0.1 -2.3 -0.6 -0.7 -2.3 -0.6 -1.1 -1.9 -1.5 -1.9 -1.7
41.84 0.8 -0.3 -3.9 0.8 -0.3 -3.7 0.4 -0.4 -3.5 -1.1 -1.0 -2.8 -1.2 -1.35 -1.6 -1.9 -1.8 -1.2
41.87 0.3 -0.7 -4.2 0.3 -0.6 -4.0 0.0 -0.6 -3.8 -1.6 -1.2 -2.7 -1.4 -1.3 -1.4 -2.0 -1.7 -1.0
41.90 -4.6 -1.2 -4.6 -4.5 -1.1 -4.3 -3.8 -0.9 -4.0 -2.6 -1.4 -2.6 -1.6 -1.2 -1.2 -2.0 -1.5 -0.8
41.935 -6.1 -1.9 -4.8 -5.7 -1.7 -4.5 -4.8 -1.3 -4.0 -3.3 -1.5 -2.5 -1.9 -1.0 -1.1 -1.8 -1.2 -0.6
41.965 -5.0 -2.2 -4.6 -4.8 -2.0 -4.3 -4.1 -1.5 -3.9 -2.9 -1.4 -2.4 -2.1 -0.8 -1.0 -1.5 -0.9 -0.4
42.00 -4.7 -1.9 -4.4 -4.4 -1.8 -4.0 -3.8 -1.3 -3.7 -2.7 -1.1 -2.2 -2.0 -0.6 -0.9 -1.2 -0.5 -0.3
42.10 -4.1 -1.1 -3.9 -3.9 -1.0 -3.6 -3.3 -0.6 -3.3 -2.2 -0.6 -1.8 -1.2 0.3 -0.5 -0.4 0.6 0.0
42.18 -3.2 -0.8 -2.8 -3.0 -0.7 -2.7 -2.6 -0.2 -2.6 -1.6 -0.2 -1.1 -0.7 0.9 0.6 0.2 1.1 0.4
42.22 0.0 0.0 -0.2 0.0 0.0 -0.2 0.2 0.2 -0.3 0.5 0.4 0.8 -0.3 1.2 2.0 0.6 1.4 1.2
42.26 2.6 1.1 2.8 2.6 1.1 2.7 2.4 1.2 2.6 2.3 1.5 2.6 1.0 1.6 2.6 1.2 1.7 2.2
42.30 2.1 1.9 4.5 2.0 1.9 4.4 1.9 1.8 4.6 2.1 1.8 3.0 2.3 2.1 2.4 2.0 1.9 2.2
42.37 2.9 1.1 3.5 2.7 1.1 3.4 2.2 1.0 3.7 1.7 1.2 2.3 2.0 1.7 1.7 1.8 1.4 1.3
42.46 2.3 0.6 2.6 2.2 0.6 2.5 1.8 0.4 2.7 1.4 0.4 1.5 1.4 0.9 1.0 1.1 0.4 0.2
42.56 2.2 0.6 1.2 2.1 0.6 1.1 1.6 0.2 1.3 0.8 -0.2 0.4 0.8 0.2 -0.2 0.1 -0.6 -1.2
42.66 1.6 0.4 -0.4 1.6 0.4 -0.5 1.3 0.1 -0.2 0.1 -0.5 -1.0 0.1 -0.5 -1.2 -0.8 -1.4 -2.1
42.76 1.2 0.2 -2.4 1.2 0.2 -2.4 0.7 -0.1 -2.3 -0.6 -0.7 -2.3 -0.6 -1.1 -1.9 -1.5 -1.9 -1.7
42.84 0.8 -0.3 -3.9 0.8 -0.3 -3.7 0.4 -0.4 -3.5 -1.1 -1.0 -2.8 -1.2 -1.35 -1.6 -1.9 -1.8 -1.2
42.87 0.3 -0.7 -4.2 0.3 -0.6 -4.0 0.0 -0.6 -3.8 -1.6 -1.2 -2.7 -1.4 -1.3 -1.4 -2.0 -1.7 -1.0
42.90 -4.6 -1.2 -4.6 -4.5 -1.1 -4.3 -3.8 -0.9 -4.0 -2.6 -1.4 -2.6 -1.6 -1.2 -1.2 -2.0 -1.5 -0.8
42.935 -6.1 -1.9 -4.8 -5.7 -1.7 -4.5 -4.8 -1.3 -4.0 -3.3 -1.5 -2.5 -1.9 -1.0 -1.1 -1.8 -1.2 -0.6
42.965 -5.0 -2.2 -4.6 -4.8 -2.0 -4.3 -4.1 -1.5 -3.9 -2.9 -1.4 -2.4 -2.1 -0.8 -1.0 -1.5 -0.9 -0.4
43.00 -4.7 -1.9 -4.4 -4.4 -1.8 -4.0 -3.8 -1.3 -3.7 -2.7 -1.1 -2.2 -2.0 -0.6 -0.9 -1.2 -0.5 -0.3
43.10 -4.1 -1.1 -3.9 -3.9 -1.0 -3.6 -3.3 -0.6 -3.3 -2.2 -0.6 -1.8 -1.2 0.3 -0.5 -0.4 0.6 0.0
43.18 -3.2 -0.8 -2.8 -3.0 -0.7 -2.7 -2.6 -0.2 -2.6 -1.6 -0.2 -1.1 -0.7 0.9 0.6 0.2 1.1 0.4
43.22 0.0 0.0 -0.2 0.0 0.0 -0.2 0.2 0.2 -0.3 0.5 0.4 0.8 -0.3 1.2 2.0 0.6 1.4 1.2
43.26 2.6 1.1 2.8 2.6 1.1 2.7 2.4 1.2 2.6 2.3 1.5 2.6 1.0 1.6 2.6 1.2 1.7 2.2
43.30 2.1 1.9 4.2 2.0 1.9 4.1 1.9 1.8 4.3 2.1 1.8 2.9 2.3 2.1 2.3 2.0 1.9 2.1
43.37 2.9 1.1 3.5 2.7 1.1 3.4 2.2 1.0 3.7 1.7 1.2 2.3 2.0 1.7 1.7 1.8 1.4 1.3
43.46 2.3 0.6 2.6 2.2 0.6 2.5 1.8 0.4 2.7 1.4 0.4 1.5 1.4 0.9 1.0 1.1 0.4 0.2
43.56 2.2 0.6 1.2 2.1 0.6 1.1 1.6 0.2 1.3 0.8 -0.2 0.4 0.8 0.2 -0.2 0.1 -0.6 -1.2
43.66 1.6 0.4 -0.4 1.6 0.4 -0.5 1.3 0.1 -0.2 0.1 -0.5 -1.0 0.1 -0.5 -1.2 -0.8 -1.4 -2.1
43.76 1.2 0.2 -2.4 1.2 0.2 -2.4 0.7 -0.1 -2.3 -0.6 -0.7 -2.3 -0.6 -1.1 -1.9 -1.5 -1.9 -1.7
43.84 0.8 -0.3 -3.9 0.8 -0.3 -3.7 0.4 -0.4 -3.5 -1.1 -1.0 -2.8 -1.2 -1.35 -1.6 -1.9 -1.8 -1.2
43.87 0.3 -0.7 -4.2 0.3 -0.6 -4.0 0.0 -0.6 -3.8 -1.6 -1.2 -2.7 -1.4 -1.3 -1.4 -2.0 -1.7 -1.0
43.90 -4.6 -1.2 -4.6 -4.5 -1.1 -4.3 -3.8 -0.9 -4.0 -2.6 -1.4 -2.6 -1.6 -1.2 -1.2 -2.0 -1.5 -0.8
43.935 -6.1 -1.9 -4.8 -5.7 -1.7 -4.5 -4.8 -1.3 -4.0 -3.3 -1.5 -2.5 -1.9 -1.0 -1.1 -1.8 -1.2 -0.6
43.965 -5.0 -2.2 -4.6 -4.8 -2.0 -4.3 -4.1 -1.5 -3.9 -2.9 -1.4 -2.4 -2.1 -0.8 -1.0 -1.5 -0.9 -0.4
44.00 -4.7 -1.9 -4.4 -4.4 -1.8 -4.0 -3.8 -1.3 -3.7 -2.7 -1.1 -2.2 -2.0 -0.6 -0.9 -1.2 -0.5 -0.3
44.10 -4.1 -1.1 -3.9 -3.9 -1.0 -3.6 -3.3 -0.6 -3.3 -2.2 -0.6 -1.8 -1.2 0.3 -0.5 -0.4 0.6 0.0
44.18 -3.2 -0.8 -2.8 -3.0 -0.7 -2.7 -2.6 -0.2 -2.6 -1.6 -0.2 -1.1 -0.7 0.9 0.6 0.2 1.1 0.4
44.22 0.0 0.0 -0.2 0.0 0.0 -0.2 0.2 0.2 -0.3 0.5 0.4 0.8 -0.3 1.2 2.0 0.6 1.4 1.2
44.26 2.6 1.1 2.8 2.6 1.1 2.7 2.4 1.2 2.6 2.3 1.5 2.6 1.0 1.6 2.6 1.2 1.7 2.2
44.30 2.1 1.9 4.4 2.0 1.9 4.3 1.9 1.8 4.5 2.1 1.8 3.0 2.3 2.1 2.4 2.0 1.9 2.2
44.37 2.9 1.1 3.5 2.7 1.1 3.4 2.2 1.0 3.7 1.7 1.2 2.3 2.0 1.7 1.7 1.8 1.4 1.3
44.46 2.3 0.6 2.6 2.2 0.6 2.5 1.8 0.4 2.7 1.4 0.4 1.5 1.4 0.9 1.0 1.1 0.4 0.2
44.56 2.2 0.6 1.2 2.1 0.6 1.1 1.6 0.2 1.3 0.8 -0.2 0.4 0.8 0.2 -0.2 0.1 -0.6 -1.2
44.66 1.6 0.4 -0.4 1.6 0.4 -0.5 1.3 0.1 -0.2 0.1 -0.5 -1.0 0.1 -0.5 -1.2 -0.8 -1.4 -2.1
44.76 1.2 0.2 -2.4 1.2 0.2 -2.4 0.7 -0.1 -2.3 -0.6 -0.7 -2.3 -0.6 -1.1 -1.9 -1.5 -1.9 -1.7
44.84 0.8 -0.3 -3.9 0.8 -0.3 -3.7 0.4 -0.4 -3.5 -1.1 -1.0 -2.8 -1.2 -1.35 -1.6 -1.9 -1.8 -1.2
44.87 0.3 -0.7 -4.2 0.3 -0.6 -4.0 0.0 -0.6 -3.8 -1.6 -1.2 -2.7 -1.4 -1.3 -1.4 -2.0 -1.7 -1.0
44.90 -4.6 -1.2 -4.6 -4.5 -1.1 -4.3 -3.8 -0.9 -4.0 -2.6 -1.4 -2.6 -1.6 -1.2 -1.2 -2.0 -1.5 -0.8
44.935 -6.1 -1.9 -4.8 -5.7 -1.7 -4.5 -4.8 -1.3 -4.0 -3.3 -1.5 -2.5 -1.9 -1.0 -1.1 -1.8 -1.2 -0.6
44.965 -5.0 -2.2 -4.6 -4.8 -2.0 -4.3 -4.1 -1.5 -3.9 -2.9 -1.4 -2.4 -2.1 -0.8 -1.0 -1.5 -0.9 -0.4
45.00 -4.7 -1.9 -4.4 -4.4 -1.8 -4.0 -3.8 -1.3 -3.7 -2.7 -1.1 -2.2 -2.0 -0.6 -0.9 -1.2 -0.5 -0.3
45.10 -4.1 -1.1 -3.9 -3.9 -1.0 -3.6 -3.3 -0.6 -3.3 -2.2 -0.6 -1.8 -1.2 0.3 -0.5 -0.4 0.6 0.0
45.18 -3.2 -0.8 -2.8 -3.0 -0.7 -2.7 -2.6 -0.2 -2.6 -1.6 -0.2 -1.1 -0.7 0.9 0.6 0.2 1.1 0.4
45.22 0.0 0.0 -0.2 0.0 0.0 -0.2 0.2 0.2 -0.3 0.5 0.4 0.8 -0.3 1.2 2.0 0.6 1.4 1.2
45.26 2.6 1.1 2.8 2.6 1.1 2.7 2.4 1.2 2.6 2.3 1.5 2.6 1.0 1.6 2.6 1.2 1.7 2.2
45.30 2.1 1.9 4.7 2.0 1.9 4.6 1.9 1.8 4.8 2.1 1.8 3.6 2.3 2.1 3.0 2.0 1.9 2.8
45.37 2.9 1.1 3.5 2.7 1.1 3.4 2.2 1.0 3.7 1.7 1.2 2.8 2.0 1.7 2.3 1.8 1.4 2.0
45.46 2.3 0.6 2.6 2.2 0.6 2.5 1.8 0.4 2.7 1.4 0.4 1.5 1.4 0.9 1.0 1.1 0.4 0.2
45.56 2.2 0.6 1.2 2.1 0.6 1.1 1.6 0.2 1.3 0.8 -0.2 0.4 0.8 0.2 -0.2 0.1 -0.6 -1.2
45.66 1.6 0.4 -0.4 1.6 0.4 -0.5 1.3 0.1 -0.2 0.1 -0.5 -1.0 0.1 -0.5 -1.2 -0.8 -1.4 -2.5
45.76 1.2 0.2 -2.4 1.2 0.2 -2.4 0.7 -0.1 -2.3 -0.6 -0.7 -2.3 -0.6 -1.1 -2.4 -1.5 -1.9 -1.7
45.84 0.8 -0.3 -3.9 0.8 -0.3 -3.7 0.4 -0.4 -3.5 -1.1 -1.0 -2.8 -1.2 -1.35 -1.6 -1.9 -1.8 -1.2
45.87 0.3 -0.7 -4.2 0.3 -0.6 -4.0 0.0 -0.6 -3.8 -1.6 -1.2 -2.7 -1.4 -1.3 -1.4 -2.0 -1.7 -1.0
45.90 -4.6 -1.2 -4.6 -4.5 -1.1 -4.3 -3.8 -0.9 -4.0 -2.6 -1.4 -2.6 -1.6 -1.2 -1.2 -2.0 -1.5 -0.8
45.935 -6.1 -1.9 -4.8 -5.7 -1.7 -4.5 -4.8 -1.3 -4.0 -3.3 -1.5 -2.5 -1.9 -1.0 -1.1 -1.8 -1.2 -0.6
45.965 -5.0 -2.2 -4.6 -4.8 -2.0 -4.3 -4.1 -1.5 -3.9 -2.9 -1.4 -2.4 -2.1 -0.8 -1.0 -1.5 -0.9 -0.4
46.00 -4.7 -1.9 -4.4 -4.4 -1.8 -4.0 -3.8 -1.3 -3.7 -2.7 -1.1 -2.2 -2.0 -0.6 -0.9 -1.2 -0.5 -0.3
46.10 -4.1 -1.1 -3.9 -3.9 -1.0 -3.6 -3.3 -0.6 -3.3 -2.2 -0.6 -1.8 -1.2 0.3 -0.5 -0.4 0.6 0.0
46.18 -3.2 -0.8 -2.8 -3.0 -0.7 -2.7 -2.6 -0.2 -2.6 -1.6 -0.2 -1.1 -0.7 0.9 0.6 0.2 1.1 0.4
46.22 0.0 0.0 -0.2 0.0 0.0 -0.2 0.2 0.2 -0.3 0.5 0.4 0.8 -0.3 1.2 2.0 0.6 1.4 1.2
46.26 2.6 1.1 2.8 2.6 1.1 2.7 2.4 1.2 2.6 2.3 1.5 2.6 1.0 1.6 2.6 1.2 1.7 2.2
46.30 2.1 1.9 4.8 2.0 1.9 4.7 1.9 1.8 4.9 2.1 1.8 3.7 2.3 2.1 3.1 2.0 1.9 2.9
46.37 2.9 1.1 3.5 2.7 1.1 3.4 2.2 1.0 3.7 1.7 1.2 2.8 2.0 1.7 2.3 1.8 1.4 2.0
46.46 2.3 0.6 2.6 2.2 0.6 2.5 1.8 0.4 2.7 1.4 0.4 1.5 1.4 0.9 1.0 1.1 0.4 0.2
46.56 2.2 0.6 1.2 2.1 0.6 1.1 1.6 0.2 1.3 0.8 -0.2 0.4 0.8 0.2 -0.2 0.1 -0.6 -1.2
46.66 1.6 0.4 -0.4 1.6 0.4 -0.5 1.3 0.1 -0.2 0.1 -0.5 -1.0 0.1 -0.5 -1.2 -0.8 -1.4 -2.5
46.76 1.2 0.2 -2.4 1.2 0.2 -2.4 0.7 -0.1 -2.3 -0.6 -0.7 -2.3 -0.6 -1.1 -2.4 -1.5 -1.9 -1.7
46.84 0.8 -0.3 -3.9 0.8 -0.3 -3.7 0.4 -0.4 -3.5 -1.1 -1.0 -2.8 -1.2 -1.35 -1.6 -1.9 -1.8 -1.2
46.87 0.3 -0.7 -4.2 0.3 -0.6 -4.0 0.0 -0.6 -3.8 -1.6 -1.2 -2.7 -1.4 -1.3 -1.4 -2.0 -1.7 -1.0
46.90 -4.6 -1.2 -4.6 -4.5 -1.1 -4.3 -3.8 -0.9 -4.0 -2.6 -1.4 -2.6 -1.6 -1.2 -1.2 -2.0 -1.5 -0.8
46.935 -6.1 -1.9 -4.8 -5.7 -1.7 -4.5 -4.8 -1.3 -4.0 -3.3 -1.5 -2.5 -1.9 -1.0 -1.1 -1.8 -1.2 -0.6
46.965 -5.0 -2.2 -4.6 -4.8 -2.0 -4.3 -4.1 -1.5 -3.9 -2.9 -1.4 -2.4 -2.1 -0.8 -1.0 -1.5 -0.9 -0.4
47.00 -4.7 -1.9 -4.4 -4.4 -1.8 -4.0 -3.8 -1.3 -3.7 -2.7 -1.1 -2.2 -2.0 -0.6 -0.9 -1.2 -0.5 -0.3
}\tedata

\begin{document}
\begin{tikzpicture}
\begin{axis}[
  scale only axis, width=641pt, height=369pt,
  xmin=27.02, xmax=47, ymin=-10, ymax=108.9,
  xtick={28,29,...,47},
  xticklabels={28,29,30,31,32,33,34,35,36,37,38,39,40,41,42,43,44,45,46,47},
  ytick={-5,0,5,15,20,25,35,40,45,55,60,65,75,80,85,95,100,105},
  yticklabels={-5,0,5,-5,0,5,-5,0,5,-5,0,5,-5,0,5,-5,0,5},
  tick label style={font=\fontsize{11pt}{13pt}\selectfont, text=lblgray},
  xticklabel style={yshift=-5.6pt},
  yticklabel style={xshift=-1.8pt},
  major tick length=5.8pt,
  axis line style={draw=axgray, line width=0.8pt},
  tick style={draw=axgray, line width=0.7pt},
  grid=major,
  major grid style={draw=gridgray, line width=0.6pt},
  ylabel={TE [$\mu$m]},
  ylabel style={at={(rel axis cs:-0.0325,0.5)}, anchor=base, rotate=0,
    font=\fontsize{13pt}{15pt}\selectfont, text=lblgray},
  every axis plot/.append style={line width=0.85pt, line join=round},
  legend cell align=right,
  legend image code/.code={\path (-8pt,0pt) -- (0pt,0pt);
    \draw[#1, line width=1.6pt] (0pt,0pt) -- (35pt,0pt);},
  legend style={at={(0.99,0.986)}, anchor=north east, draw=none, fill=white,
    font=\fontsize{15.7pt}{18pt}\selectfont\bfseries,
    inner xsep=3pt, inner ysep=3.3pt, row sep=5.75pt,
    nodes={inner sep=0pt, text height=12pt, text depth=3.5pt},
    /tikz/every odd column/.append style={column sep=6pt}},
]
\addlegendimage{black, solid}
\addlegendentry{Measured Transmission Error}
\addlegendimage{red, dash pattern=on 5pt off 2.5pt}
\addlegendentry{Analytical Method}
\addlegendimage{blue, dash pattern=on 5pt off 2.5pt}
\addlegendentry{Siemens STS Advanced Method}
\addlegendimage{empty legend}
\addlegendentry[text height=9.5pt, text depth=0pt]{}

\addplot[black, forget plot] table[x=x, y expr=\thisrow{m1}+100] {\tedata};
\addplot[red, forget plot] table[x=x, y expr=\thisrow{a1}+100] {\tedata};
\addplot[blue, forget plot] table[x=x, y expr=\thisrow{s1}+100] {\tedata};
\addplot[black, forget plot] table[x=x, y expr=\thisrow{m2}+80] {\tedata};
\addplot[red, forget plot] table[x=x, y expr=\thisrow{a2}+80] {\tedata};
\addplot[blue, forget plot] table[x=x, y expr=\thisrow{s2}+80] {\tedata};
\addplot[black, forget plot] table[x=x, y expr=\thisrow{m3}+60] {\tedata};
\addplot[red, forget plot] table[x=x, y expr=\thisrow{a3}+60] {\tedata};
\addplot[blue, forget plot] table[x=x, y expr=\thisrow{s3}+60] {\tedata};
\addplot[black, forget plot] table[x=x, y expr=\thisrow{m4}+40] {\tedata};
\addplot[red, forget plot] table[x=x, y expr=\thisrow{a4}+40] {\tedata};
\addplot[blue, forget plot] table[x=x, y expr=\thisrow{s4}+40] {\tedata};
\addplot[black, forget plot] table[x=x, y expr=\thisrow{m5}+20] {\tedata};
\addplot[red, forget plot] table[x=x, y expr=\thisrow{a5}+20] {\tedata};
\addplot[blue, forget plot] table[x=x, y expr=\thisrow{s5}+20] {\tedata};
\addplot[black, forget plot] table[x=x, y=m6] {\tedata};
\addplot[red, forget plot] table[x=x, y=a6] {\tedata};
\addplot[blue, forget plot] table[x=x, y=s6] {\tedata};

\coordinate (bl) at (rel axis cs:0,0);
\coordinate (tr) at (rel axis cs:1,1);
\coordinate (tc) at (rel axis cs:0.5,1);
\end{axis}
\node[anchor=base, font=\fontsize{12.5pt}{14pt}\selectfont\bfseries, text=lblgray]
  at ([yshift=3pt]tc) {Comparison static TE Gear 40};
\pgfresetboundingbox
\path[use as bounding box] ([shift={(-41.5pt,-18pt)}]bl) rectangle ([shift={(9.5pt,5pt)}]tr);
\end{tikzpicture}
\end{document}
